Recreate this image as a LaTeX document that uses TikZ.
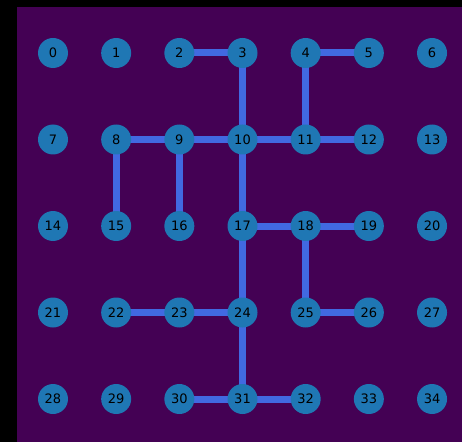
\documentclass[tikz,border=0pt]{standalone}
\usepackage{fontspec}
\setmainfont{DejaVu Sans}
\usepackage{tikz}
\usetikzlibrary{positioning,backgrounds}

\definecolor{bgpurple}{HTML}{440154}
\definecolor{nodeblue}{HTML}{1F77B4}
\definecolor{edgeblue}{HTML}{4169E1}

\begin{document}
\begin{tikzpicture}[
  x=1pt, y=1pt,
  cell/.style={circle, fill=nodeblue, minimum size=30pt, inner sep=0pt,
    font=\fontsize{13}{13}\selectfont, text=black},
  link/.style={draw=edgeblue, line width=7pt},
]
  \useasboundingbox (0,0) rectangle (462,442);

  % grid of cells, 7 per row
  \foreach \r in {0,...,4} {
    \foreach \c in {0,...,6} {
      \pgfmathtruncatemacro{\k}{7*\r+\c}
      \node[cell] (n\k) at ({53+63.17*\c},{389-86.5*\r}) {\k};
    }
  }

  \begin{pgfonlayer}{background}
    \fill[black] (0,0) rectangle (462,442);
    \fill[bgpurple] (17,0) rectangle (462,435);
    % links
    \foreach \a/\b in {2/3, 3/10, 4/5, 4/11, 8/9, 9/10, 10/11, 11/12,
                       8/15, 9/16, 10/17, 17/18, 18/19, 17/24, 18/25,
                       25/26, 22/23, 23/24, 24/31, 30/31, 31/32}
      \draw[link] (n\a.center) -- (n\b.center);
  \end{pgfonlayer}
\end{tikzpicture}
\end{document}
